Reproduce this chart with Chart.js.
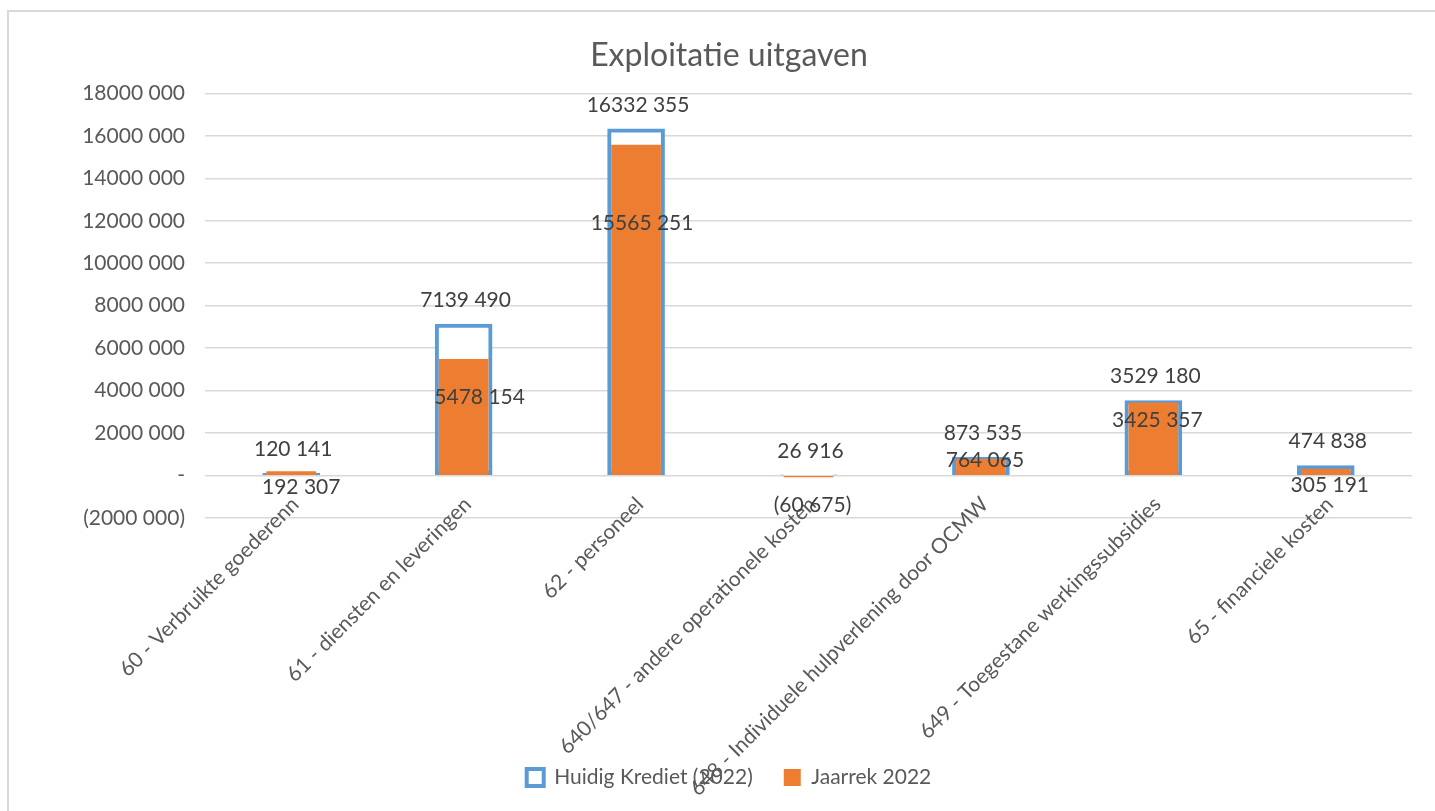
<!DOCTYPE html>
<html>
<head>
<meta charset="utf-8">
<script src="https://cdn.jsdelivr.net/npm/chart.js@4"></script>
<style>
  html, body { margin: 0; padding: 0; background: #fff; overflow: hidden; }
  #frame {
    position: absolute; left: 7px; top: 10px;
    width: 1440px; height: 799px;
    border-left: 2px solid #d9d9d9; border-top: 2px solid #d9d9d9;
  }
</style>
</head>
<body>
<div id="frame"><canvas id="myChart" width="1440" height="799"></canvas></div>
<script>
// rubrieken en bedragen
var categories = [
	'60 - Verbruikte goederenn',
	'61 - diensten en leveringen',
	'62 - personeel',
	'640/647 - andere operationele kosten',
	'648 - Individuele hulpverlening door OCMW',
	'649 - Toegestane werkingssubsidies',
	'65 - financiele kosten'
];
var huidigKrediet = [120141, 7139490, 16332355, 26916, 873535, 3529180, 474838];
var jaarrek = [192307, 5478154, 15565251, -60675, 764065, 3425357, 305191];
var yMin = -2000000;
var yMax = 18000000;
var yStep = 2000000;

// getal opmaak zoals in excel: "16332 355", "-" en "(60 675)"
function formatNumber(value) {
	if (value === 0) return '-';
	var abs = Math.abs(value);
	var thousands = Math.floor(abs / 1000);
	var rest = abs % 1000;
	var text = thousands > 0 ? thousands + ' ' + String(rest).padStart(3, '0') : String(rest);
	return value < 0 ? '(' + text + ')' : text;
}

// verschuiving van de labels t.o.v. het einde van de staaf (px)
var labelShift = [
	{ dx : [2, 2, 2, 2, 2, 2, 2], dy : [-24, -24, -24, -24, -24, -24, -24] },
	{ dx : [10, 16, 6, 4, 4, 4, 4], dy : [16, 38, 78, 28, 1, 17, 16] }
];

var valueLabels = {
	id : 'valueLabels',
	afterDatasetsDraw : function(chart) {
		var ctx = chart.ctx;
		ctx.save();
		ctx.font = '21px Lato';
		ctx.fillStyle = '#404040';
		ctx.textAlign = 'center';
		ctx.textBaseline = 'middle';
		chart.data.datasets.forEach(function(dataset, datasetIndex) {
			var meta = chart.getDatasetMeta(datasetIndex);
			var shift = labelShift[datasetIndex];
			meta.data.forEach(function(bar, index) {
				ctx.fillText(formatNumber(dataset.data[index]), bar.x + shift.dx[index], bar.y + shift.dy[index]);
			});
		});
		ctx.restore();
	}
};

var data = {
	labels : categories,
	datasets : [ {
		label : 'Huidig Krediet (2022)',
		data : huidigKrediet,
		backgroundColor : '#ffffff',
		borderColor : '#5b9bd5',
		borderWidth : 4,
		borderSkipped : false,
		barThickness : 57,
		grouped : false,
		order : 2
	}, {
		label : 'Jaarrek 2022',
		data : jaarrek,
		backgroundColor : '#ed7d31',
		borderWidth : 0,
		barThickness : 49,
		grouped : false,
		order : 1
	} ]
};

var options = {
	responsive : false,
	animation : false,
	layout : {
		padding : { left : 0, right : 0, top : 0, bottom : 13 }
	},
	plugins : {
		title : {
			display : true,
			text : 'Exploitatie uitgaven',
			color : '#595959',
			font : { family : 'Lato', size : 32, weight : 'normal' },
			padding : { top : 24, bottom : 19 }
		},
		legend : {
			position : 'bottom',
			labels : {
				color : '#595959',
				font : { family : 'Lato', size : 21 },
				boxWidth : 17,
				boxHeight : 17,
				padding : 31,
				sort : function(a, b) { return a.datasetIndex - b.datasetIndex; }
			}
		},
		tooltip : { enabled : false }
	},
	scales : {
		x : {
			grid : { display : false, drawTicks : false },
			border : { display : false },
			ticks : {
				color : '#595959',
				font : { family : 'Lato', size : 21 },
				maxRotation : 45,
				minRotation : 45,
				autoSkip : false,
				labelOffset : 4,
				padding : -26
			},
			afterFit : function(scale) {
				scale.height = 218;
				// labels mogen over de legende heen lopen zoals in excel
				scale._computeLabelArea = function() { return undefined; };
			}
		},
		y : {
			min : yMin,
			max : yMax,
			grid : { color : '#d9d9d9', lineWidth : 1.5, drawTicks : false },
			border : { display : false },
			ticks : {
				stepSize : yStep,
				color : '#595959',
				font : { family : 'Lato', size : 21 },
				padding : 20,
				callback : function(value) { return formatNumber(value); }
			},
			afterFit : function(scale) { scale.width = 196; }
		},
		// lege as rechts, enkel voor de witruimte naast het plotgebied
		yRight : {
			position : 'right',
			min : yMin,
			max : yMax,
			grid : { display : false, drawTicks : false },
			border : { display : false },
			ticks : { display : false },
			afterFit : function(scale) { scale.width = 37; }
		}
	}
};

var myBarChart = new Chart(document.getElementById('myChart'), {
	type : 'bar',
	data : data,
	options : options,
	plugins : [ valueLabels ]
});
</script>
</body>
</html>
